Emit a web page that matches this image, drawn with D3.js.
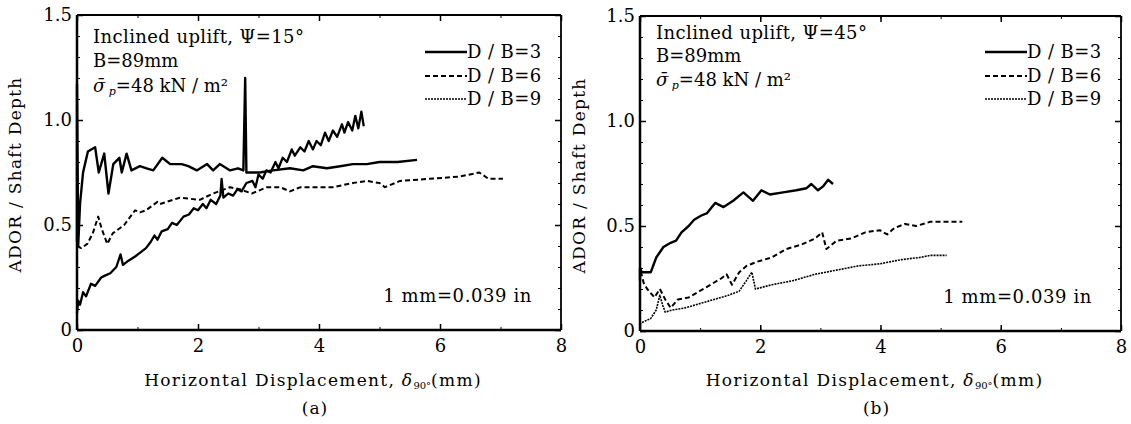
<!DOCTYPE html>
<html><head><meta charset="utf-8">
<script src="https://cdn.jsdelivr.net/npm/d3@7"></script>
<style>
body{margin:0;background:#fff;}
svg text{font-family:"DejaVu Serif","Liberation Serif",serif;fill:#000;}
</style></head>
<body>
<svg id="c" width="1131" height="424"></svg>
<script>
// ---- data ----
const xTicks = [0, 2, 4, 6, 8];
const xTickLabels = ["0", "2", "4", "6", "8"];
const yTicks = [0, 0.5, 1.0, 1.5];
const yTickLabels = ["0", "0.5", "1.0", "1.5"];
const seriesNames = ["D / B=3", "D / B=6", "D / B=9"];
const panelTitles = ["Inclined uplift, \u03A8=15\u00B0", "Inclined uplift, \u03A8=45\u00B0"];
const panelLetters = ["(a)", "(b)"];

// Panel (a) Psi = 15 deg
const a_DB3 = [[0,0.42],[0,1.17],[0.02,0.40],[0.05,0.6],[0.1,0.75],[0.18,0.85],[0.3,0.87],[0.36,0.75],[0.45,0.84],[0.52,0.65],[0.6,0.79],[0.7,0.82],[0.74,0.75],[0.82,0.84],[0.9,0.76],[1.04,0.78],[1.15,0.77],[1.26,0.76],[1.41,0.82],[1.54,0.79],[1.73,0.79],[1.84,0.78],[1.98,0.76],[2.15,0.79],[2.25,0.76],[2.36,0.79],[2.53,0.76],[2.66,0.77],[2.75,0.76],[2.78,1.2],[2.8,0.75],[3.02,0.75],[3.24,0.76],[3.52,0.77],[3.74,0.76],[3.9,0.78],[4.13,0.77],[4.35,0.78],[4.56,0.79],[4.79,0.79],[5.0,0.8],[5.3,0.8],[5.62,0.81]];
const a_DB6 = [[0,0.40],[0.07,0.39],[0.17,0.41],[0.26,0.46],[0.35,0.54],[0.41,0.48],[0.5,0.41],[0.59,0.46],[0.78,0.5],[0.96,0.57],[1.04,0.56],[1.14,0.57],[1.33,0.61],[1.37,0.6],[1.7,0.63],[2.03,0.62],[2.25,0.65],[2.53,0.68],[2.69,0.67],[2.89,0.65],[3.14,0.68],[3.36,0.68],[3.52,0.66],[3.69,0.68],[3.97,0.68],[4.23,0.68],[4.56,0.7],[4.79,0.71],[5.0,0.7],[5.09,0.68],[5.34,0.71],[5.83,0.72],[6.31,0.73],[6.65,0.75],[6.8,0.72],[7.04,0.72]];
const a_DB9 = [[0,0.08],[0.02,0.14],[0.05,0.12],[0.1,0.18],[0.15,0.16],[0.23,0.22],[0.3,0.21],[0.4,0.25],[0.47,0.26],[0.55,0.27],[0.65,0.3],[0.72,0.36],[0.76,0.31],[0.85,0.33],[0.96,0.35],[1.05,0.37],[1.14,0.39],[1.22,0.42],[1.28,0.45],[1.33,0.43],[1.4,0.47],[1.5,0.48],[1.57,0.51],[1.65,0.5],[1.76,0.54],[1.85,0.55],[1.93,0.58],[2.0,0.57],[2.08,0.6],[2.14,0.58],[2.21,0.62],[2.3,0.6],[2.37,0.64],[2.39,0.72],[2.42,0.63],[2.5,0.65],[2.58,0.64],[2.65,0.67],[2.72,0.66],[2.8,0.7],[2.9,0.71],[2.95,0.68],[3.0,0.74],[3.07,0.72],[3.13,0.76],[3.2,0.75],[3.28,0.8],[3.33,0.77],[3.4,0.82],[3.47,0.8],[3.55,0.86],[3.6,0.83],[3.69,0.87],[3.76,0.85],[3.83,0.9],[3.9,0.86],[3.96,0.9],[4.03,0.88],[4.1,0.94],[4.16,0.9],[4.23,0.95],[4.3,0.92],[4.38,0.98],[4.42,0.94],[4.48,0.99],[4.55,0.95],[4.6,1.02],[4.65,0.96],[4.7,1.04],[4.74,0.97]];

// Panel (b) Psi = 45 deg
const b_DB3 = [[0,0.24],[0,0.3],[0.03,0.28],[0.18,0.28],[0.27,0.35],[0.39,0.4],[0.51,0.42],[0.6,0.43],[0.69,0.47],[0.81,0.5],[0.9,0.53],[1.02,0.55],[1.11,0.56],[1.25,0.61],[1.39,0.59],[1.55,0.62],[1.72,0.66],[1.88,0.62],[2.02,0.67],[2.16,0.65],[2.38,0.66],[2.6,0.67],[2.77,0.68],[2.85,0.7],[2.96,0.67],[3.05,0.69],[3.13,0.72],[3.21,0.7]];
const b_DB6 = [[0,0.05],[0,0.3],[0.06,0.23],[0.12,0.2],[0.24,0.16],[0.33,0.2],[0.42,0.15],[0.51,0.11],[0.63,0.15],[0.81,0.16],[0.99,0.19],[1.17,0.22],[1.35,0.25],[1.44,0.27],[1.53,0.22],[1.65,0.28],[1.77,0.31],[1.95,0.33],[2.19,0.35],[2.43,0.39],[2.67,0.41],[2.91,0.44],[3.03,0.47],[3.1,0.39],[3.27,0.43],[3.51,0.44],[3.75,0.47],[3.99,0.48],[4.11,0.46],[4.23,0.49],[4.41,0.51],[4.59,0.5],[4.83,0.52],[5.07,0.52],[5.36,0.52]];
const b_DB9 = [[0,0.03],[0.03,0.04],[0.18,0.06],[0.27,0.1],[0.33,0.17],[0.38,0.12],[0.42,0.09],[0.54,0.1],[0.75,0.11],[0.99,0.13],[1.23,0.15],[1.47,0.17],[1.65,0.19],[1.77,0.24],[1.86,0.28],[1.92,0.2],[2.19,0.22],[2.55,0.24],[2.91,0.27],[3.27,0.29],[3.63,0.31],[3.99,0.32],[4.35,0.34],[4.65,0.35],[4.83,0.36],[5.1,0.36]];

// ---- drawing ----
const svg = d3.select("#c");
const panels = [
  {x0:77, x1:561, y0:330, y1:15, series:[a_DB3,a_DB6,a_DB9], title:panelTitles[0], letter:panelLetters[0], ytitleX:21, annY:[43,67,92], thick9:true},
  {x0:640, x1:1121, y0:331, y1:16, series:[b_DB3,b_DB6,b_DB9], title:panelTitles[1], letter:panelLetters[1], ytitleX:585, annY:[39,62,86], thick9:false}
];
const styles = [
  {w:2.4, dash:null},
  {w:2.0, dash:"5,3"},
  {w:1.6, dash:"2,1"}
];

panels.forEach(p => {
  const g = svg.append("g");
  const x = d3.scaleLinear().domain([0,8]).range([p.x0,p.x1]);
  const y = d3.scaleLinear().domain([0,1.5]).range([p.y0,p.y1]);

  // minor ticks
  const yMinor = d3.range(0,1.51,0.1);
  const xMinor = d3.range(0,8.01,1);
  g.append("g").attr("transform",`translate(${p.x0},0)`)
    .call(d3.axisRight(y).tickValues(yMinor).tickSize(3).tickFormat(""))
    .call(s=>s.select(".domain").remove());
  g.append("g").attr("transform",`translate(${p.x1},0)`)
    .call(d3.axisLeft(y).tickValues(yMinor).tickSize(3).tickFormat(""))
    .call(s=>s.select(".domain").remove());
  g.append("g").attr("transform",`translate(0,${p.y0})`)
    .call(d3.axisTop(x).tickValues(xMinor).tickSize(3).tickFormat(""))
    .call(s=>s.select(".domain").remove());
  g.append("g").attr("transform",`translate(0,${p.y1})`)
    .call(d3.axisBottom(x).tickValues(xMinor).tickSize(3).tickFormat(""))
    .call(s=>s.select(".domain").remove());

  // major axes with labels (ticks inward)
  const ya = g.append("g").attr("transform",`translate(${p.x0},0)`)
    .call(d3.axisLeft(y).tickValues(yTicks).tickSize(-6).tickPadding(5)
      .tickFormat((d,i)=>yTickLabels[i]));
  ya.select(".domain").remove();
  ya.selectAll("text").attr("font-size",18).attr("font-family","DejaVu Serif");
  ya.selectAll("line").attr("stroke-width",1.5);
  const yb = g.append("g").attr("transform",`translate(${p.x1},0)`)
    .call(d3.axisRight(y).tickValues(yTicks).tickSize(-6).tickFormat(""));
  yb.select(".domain").remove();
  yb.selectAll("line").attr("stroke-width",1.5);
  const xa = g.append("g").attr("transform",`translate(0,${p.y0})`)
    .call(d3.axisBottom(x).tickValues(xTicks).tickSize(-6).tickPadding(9)
      .tickFormat((d,i)=>xTickLabels[i]));
  xa.select(".domain").remove();
  xa.selectAll("text").attr("font-size",18).attr("font-family","DejaVu Serif");
  xa.selectAll("line").attr("stroke-width",1.5);
  const xb = g.append("g").attr("transform",`translate(0,${p.y1})`)
    .call(d3.axisTop(x).tickValues(xTicks).tickSize(-6).tickFormat(""));
  xb.select(".domain").remove();
  xb.selectAll("line").attr("stroke-width",1.5);

  // frame
  g.append("line").attr("x1",p.x0).attr("x2",p.x1).attr("y1",p.y0).attr("y2",p.y0).attr("stroke","#000").attr("stroke-width",2.5);
  g.append("line").attr("x1",p.x0).attr("x2",p.x0).attr("y1",p.y0).attr("y2",p.y1).attr("stroke","#000").attr("stroke-width",2.5);
  g.append("line").attr("x1",p.x0).attr("x2",p.x1).attr("y1",p.y1).attr("y2",p.y1).attr("stroke","#000").attr("stroke-width",1.8);
  g.append("line").attr("x1",p.x1).attr("x2",p.x1).attr("y1",p.y0).attr("y2",p.y1).attr("stroke","#000").attr("stroke-width",1.8);

  // series
  const line = d3.line().x(d=>x(d[0])).y(d=>y(d[1]));
  p.series.forEach((s,i) => {
    let st = styles[i];
    if (i===2 && p.thick9) st = {w:2.3, dash:null};
    g.append("path").datum(s).attr("d",line).attr("fill","none")
      .attr("stroke","#000").attr("stroke-width",st.w)
      .attr("stroke-linejoin","round")
      .attr("stroke-dasharray",st.dash);
  });

  // legend
  const lx0 = p.x1 - 136, lx1 = p.x1 - 94;
  [52,76,99].forEach((ly,i) => {
    g.append("line").attr("x1",lx0).attr("x2",lx1).attr("y1",ly).attr("y2",ly)
      .attr("stroke","#000").attr("stroke-width",styles[i].w).attr("stroke-dasharray",styles[i].dash);
    g.append("text").attr("x",lx1).attr("y",ly+6).attr("font-size",18)
      .attr("letter-spacing",0.4).text(seriesNames[i]);
  });

  // annotations
  const ax = p.x0 + 16;
  g.append("text").attr("x",ax).attr("y",p.annY[0]).attr("font-size",18).attr("letter-spacing",0.4).text(p.title);
  g.append("text").attr("x",ax).attr("y",p.annY[1]).attr("font-size",18).text("B=89mm");
  const t3 = g.append("text").attr("x",ax).attr("y",p.annY[2]).attr("font-size",18);
  t3.append("tspan").attr("font-style","italic").text("\u03C3\u0304");
  t3.append("tspan").attr("font-size",11).attr("font-style","italic").attr("dy",3).text(" p");
  t3.append("tspan").attr("dy",-3).text("=48 kN / m\u00B2");

  g.append("text").attr("x",p.x1 - 29).attr("y",p.y0 - 28).attr("font-size",18)
    .attr("text-anchor","end").attr("letter-spacing",0.6).text("1 mm=0.039 in");

  // axis titles
  const cx = (p.x0 + p.x1)/2;
  const xt = g.append("text").attr("x",cx - 6).attr("y",386).attr("font-size",17)
    .attr("text-anchor","middle").attr("letter-spacing",1.3);
  xt.append("tspan").text("Horizontal Displacement, ");
  xt.append("tspan").attr("font-style","italic").text("\u03B4");
  xt.append("tspan").attr("font-size",10).attr("dy",3).attr("letter-spacing",0).text("90\u00B0");
  xt.append("tspan").attr("dy",-3).text("(mm)");
  g.append("text").attr("x",cx - 4).attr("y",414).attr("font-size",17)
    .attr("text-anchor","middle").attr("letter-spacing",1).text(p.letter);
  g.append("text").attr("transform",`translate(${p.ytitleX},${(p.y0+p.y1)/2 + 2}) rotate(-90)`)
    .attr("font-size",17).attr("text-anchor","middle").attr("letter-spacing",1.3)
    .text("ADOR / Shaft Depth");
});
</script>
</body></html>
